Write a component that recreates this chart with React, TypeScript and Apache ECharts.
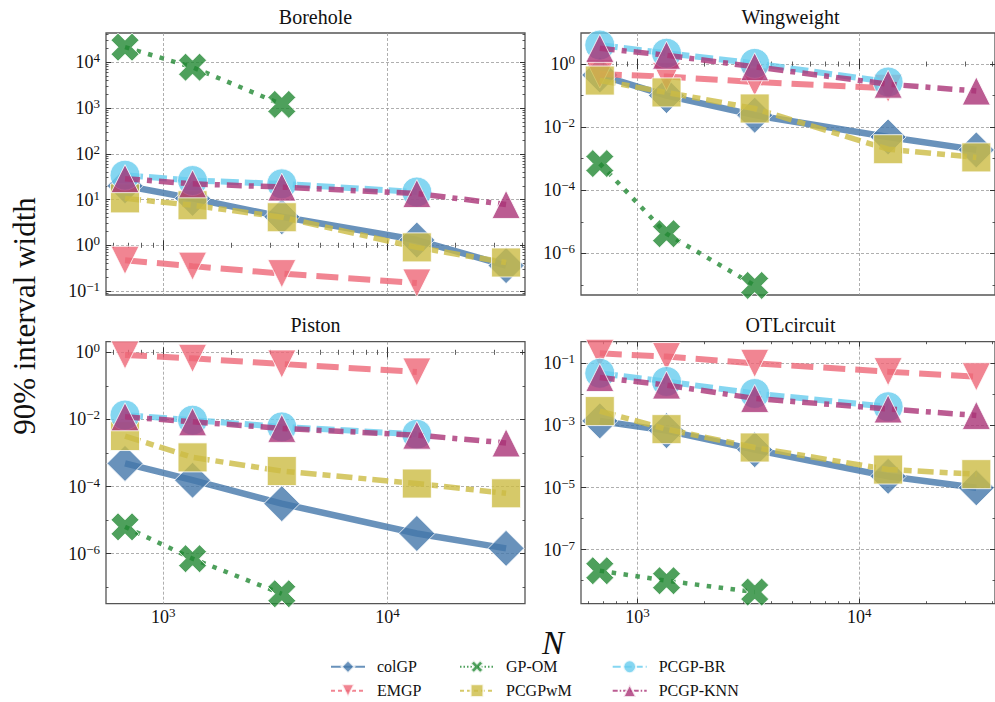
import React, { useEffect, useRef } from 'react';
import * as echarts from 'echarts';

// Training-set sizes shared by every panel
const N = [675, 1350, 3375, 13500, 33750];

// Borehole
const boreholeColGP = [20, 10.6, 4.2, 1.3, 0.36];
const boreholeEMGP = [0.47, 0.35, 0.24, 0.15];
const boreholeGPOM = [21400, 7800, 1200];
const boreholePCGPwM = [10.6, 7.5, 4.1, 0.9, 0.42];
const boreholePCGPBR = [34, 26, 22, 14.6];
const boreholePCGPKNN = [28.6, 22, 18.7, 13.5, 7.8];

// Wingweight
const wingColGP = [0.45, 0.1, 0.024, 0.0049, 0.0019];
const wingEMGP = [0.48, 0.4, 0.27, 0.17];
const wingGPOM = [7.0e-4, 4.2e-6, 9.6e-8];
const wingPCGPwM = [0.3, 0.126, 0.039, 0.002, 0.0011];
const wingPCGPBR = [4.0, 2.2, 1.05, 0.27];
const wingPCGPKNN = [3.15, 1.9, 0.82, 0.23, 0.14];

// Piston
const pistonColGP = [4.9e-4, 1.55e-4, 3.1e-5, 4.0e-6, 1.44e-6];
const pistonEMGP = [0.83, 0.66, 0.45, 0.26];
const pistonGPOM = [6.3e-6, 7.1e-7, 6.4e-8];
const pistonPCGPwM = [3.2e-3, 7.4e-4, 2.9e-4, 1.23e-4, 6.3e-5];
const pistonPCGPBR = [0.0135, 0.0095, 0.006, 0.0036];
const pistonPCGPKNN = [0.012, 0.0085, 0.0054, 0.0034, 0.002];

// OTLcircuit
const otlColGP = [1.4e-3, 6.8e-4, 1.66e-4, 2.3e-5, 9.8e-6];
const otlEMGP = [0.21, 0.165, 0.1, 0.054, 0.037];
const otlGPOM = [2.1e-8, 1.0e-8, 4.3e-9];
const otlPCGPwM = [2.9e-3, 7.6e-4, 1.95e-4, 3.8e-5, 2.7e-5];
const otlPCGPBR = [0.048, 0.026, 0.0107, 0.004];
const otlPCGPKNN = [0.035, 0.02, 0.0074, 0.0034, 0.0021];

const METHODS = ['colGP', 'EMGP', 'GP-OM', 'PCGPwM', 'PCGP-BR', 'PCGP-KNN'];
const TITLES = ['Borehole', 'Wingweight', 'Piston', 'OTLcircuit'];

// Labelled decades (exponents) and minor tick decades per panel
const X_MAJOR_EXP = [3, 4];
const Y_MAJOR_EXP = [
  [-1, 0, 1, 2, 3, 4],
  [0, -2, -4, -6],
  [0, -2, -4, -6],
  [-1, -3, -5, -7],
];
const Y_DECADE_EXP = [
  [],
  [1, -1, -3, -5, -7],
  [-1, -3, -5, -7],
  [0, -2, -4, -6, -8],
];

// Axis ranges, as powers of ten (the axes run in log10 space)
const X_RANGE = [2.7445, 4.6126];
const Y_RANGES = [
  [-1.087, 4.64],
  [-7.32, 0.984],
  [-7.49, 0.316],
  [-8.74, -0.303],
];

const FONT = 'Liberation Serif, serif';
const COLORS = ['#4477AA', '#EE6677', '#228833', '#CCBB44', '#66CCEE', '#AA3377'];
const X_MARK = 'path://M0,2.5L2.5,0L5,2.5L7.5,0L10,2.5L7.5,5L10,7.5L7.5,10L5,7.5L2.5,10L0,7.5L2.5,5Z';

const STYLES = [
  { symbol: 'diamond', size: 36, rotate: 0, width: 6.5, type: 'solid' as any, legendType: 'solid' as any },
  { symbol: 'triangle', size: 28, rotate: 180, width: 6, type: [22, 10], legendType: [4, 3] },
  { symbol: X_MARK, size: 28, rotate: 0, width: 4.5, type: [4.5, 7.5], legendType: [1.5, 2] },
  { symbol: 'rect', size: 29, rotate: 0, width: 5.5, type: [16, 6, 8, 6], legendType: [4, 3] },
  { symbol: 'circle', size: 30, rotate: 0, width: 6, type: [18, 6], legendType: [8, 3] },
  { symbol: 'triangle', size: 28, rotate: 0, width: 5.5, type: [15, 7, 5, 7], legendType: [5, 2, 1.5, 2] },
];

const PANEL_DATA = [
  [boreholeColGP, boreholeEMGP, boreholeGPOM, boreholePCGPwM, boreholePCGPBR, boreholePCGPKNN],
  [wingColGP, wingEMGP, wingGPOM, wingPCGPwM, wingPCGPBR, wingPCGPKNN],
  [pistonColGP, pistonEMGP, pistonGPOM, pistonPCGPwM, pistonPCGPBR, pistonPCGPKNN],
  [otlColGP, otlEMGP, otlGPOM, otlPCGPwM, otlPCGPBR, otlPCGPKNN],
];

const GRIDS = [
  { left: 106, top: 33 },
  { left: 581, top: 33 },
  { left: 106, top: 341.7 },
  { left: 581, top: 341.7 },
];
const GRID_W = 419;
const GRID_H = 262;

// minor ticks at 2..9 x 10^e, in log10 space
const subTicks = (lo: number, hi: number) => {
  const out: number[] = [];
  for (let e = lo; e <= hi; e++) for (let s = 2; s <= 9; s++) out.push(e + Math.log10(s));
  return out;
};

const expLabel = (v: number) => {
  const e = Math.round(v);
  return '{b|10}{s|' + (e < 0 ? '\u2212' + -e : String(e)) + '}';
};

const labelRich = {
  b: { fontSize: 18, fontFamily: FONT, color: '#111' },
  s: { fontSize: 13, fontFamily: FONT, color: '#111', padding: [0, 0, 9, 0] },
};

const majorTick = (values: number[]) => ({
  show: true,
  inside: true,
  length: 5,
  customValues: values,
  lineStyle: { color: '#333', width: 1 },
});
const minorTick = (values: number[]) => ({
  show: true,
  inside: true,
  length: 2.5,
  customValues: values,
  lineStyle: { color: '#333', width: 0.8 },
});
const gridLine = {
  show: true,
  lineStyle: { color: '#9a9a9a', width: 0.8, type: [3, 2] },
};

function buildOption() {
  const xAxis: any[] = [];
  const yAxis: any[] = [];
  const series: any[] = [];

  const xMinor = subTicks(2, 4);

  GRIDS.forEach((_, g) => {
    const xBase = {
      type: 'value',
      gridIndex: g,
      min: X_RANGE[0],
      max: X_RANGE[1],
      axisLine: { show: false },
      splitLine: { show: false },
      axisLabel: { show: false },
      silent: true,
    };
    const bottomRow = g >= 2;
    xAxis.push({
      ...xBase,
      position: 'bottom',
      axisTick: majorTick(X_MAJOR_EXP),
      splitLine: gridLine,
      axisLabel: {
        show: bottomRow,
        customValues: X_MAJOR_EXP,
        formatter: expLabel,
        margin: 2,
        rich: labelRich,
      },
    });
    xAxis.push({ ...xBase, position: 'bottom', axisTick: minorTick(xMinor) });
    xAxis.push({ ...xBase, position: 'top', axisTick: majorTick(X_MAJOR_EXP) });
    xAxis.push({ ...xBase, position: 'top', axisTick: minorTick(xMinor) });

    const yMajor = Y_MAJOR_EXP[g];
    const yMinor = g === 0 ? subTicks(-2, 4) : Y_DECADE_EXP[g];
    const yBase = {
      type: 'value',
      gridIndex: g,
      min: Y_RANGES[g][0],
      max: Y_RANGES[g][1],
      axisLine: { show: false },
      splitLine: { show: false },
      axisLabel: { show: false },
      silent: true,
    };
    yAxis.push({
      ...yBase,
      position: 'left',
      axisTick: majorTick(yMajor),
      splitLine: gridLine,
      axisLabel: {
        show: true,
        customValues: yMajor,
        formatter: expLabel,
        margin: 6,
        rich: labelRich,
      },
    });
    yAxis.push({ ...yBase, position: 'left', axisTick: minorTick(yMinor) });
    yAxis.push({ ...yBase, position: 'right', axisTick: majorTick(yMajor) });
    yAxis.push({ ...yBase, position: 'right', axisTick: minorTick(yMinor) });

    PANEL_DATA[g].forEach((vals, m) => {
      const st = STYLES[m];
      series.push({
        type: 'line',
        name: METHODS[m],
        xAxisIndex: g * 4,
        yAxisIndex: g * 4,
        data: vals.map((v, k) => [Math.log10(N[k]), Math.log10(v)]),
        symbol: st.symbol,
        symbolSize: st.size,
        symbolRotate: st.rotate,
        showSymbol: true,
        showAllSymbol: true,
        z: 2 + m,
        silent: true,
        emphasis: { disabled: true },
        itemStyle: {
          color: COLORS[m],
          opacity: 0.8,
          borderColor: '#ffffff',
          borderWidth: 1,
        },
        lineStyle: {
          color: COLORS[m],
          width: st.width,
          type: st.type,
          opacity: 0.8,
          cap: 'butt',
        },
      });
    });
  });

  const legendItem = (m: number) => ({
    name: METHODS[m],
    lineStyle: { width: 2, type: STYLES[m].legendType },
  });
  const legendBase = {
    orient: 'vertical',
    top: 658.7,
    padding: 0,
    itemWidth: 34,
    itemHeight: 16,
    itemGap: 8,
    selectedMode: false,
    textStyle: { fontFamily: FONT, fontSize: 16, color: '#111', padding: [0, 0, 0, 7] },
  };

  const textEl = (text: string, x: number, y: number, size: number, italic = false, rotation = 0) => ({
    type: 'text',
    x,
    y,
    rotation,
    silent: true,
    style: {
      text,
      fontFamily: FONT,
      fontSize: size,
      fontStyle: italic ? 'italic' : 'normal',
      fill: '#111',
      textAlign: 'center',
      textVerticalAlign: 'middle',
      align: 'center',
      verticalAlign: 'middle',
    },
  });

  return {
    animation: false,
    backgroundColor: '#ffffff',
    textStyle: { fontFamily: FONT },
    grid: GRIDS.map((p) => ({
      left: p.left,
      top: p.top,
      width: GRID_W,
      height: GRID_H,
      show: true,
      borderColor: '#555',
      borderWidth: 1.3,
      backgroundColor: 'transparent',
    })),
    xAxis,
    yAxis,
    series,
    legend: [
      { ...legendBase, left: 330, data: [legendItem(0), legendItem(1)] },
      { ...legendBase, left: 459, data: [legendItem(2), legendItem(3)] },
      { ...legendBase, left: 611.7, data: [legendItem(4), legendItem(5)] },
    ],
    graphic: [
      textEl(TITLES[0], 315.5, 17, 20),
      textEl(TITLES[1], 790.5, 17, 20),
      textEl(TITLES[2], 315.5, 325, 20),
      textEl(TITLES[3], 790.5, 325, 20),
      textEl('90% interval width', 24, 316, 31, false, Math.PI / 2),
      textEl('N', 553, 643, 33, true),
    ],
  };
}

export default function App() {
  const ref = useRef<HTMLDivElement>(null);
  useEffect(() => {
    if (!ref.current) return;
    const chart = echarts.init(ref.current, null, { renderer: 'svg' });
    chart.setOption(buildOption() as any);
    return () => chart.dispose();
  }, []);
  return (
    <div
      style={{
        position: 'fixed',
        left: 0,
        top: 0,
        width: 995,
        height: 702,
        overflow: 'hidden',
        background: '#fff',
      }}
    >
      <div ref={ref} style={{ width: 995, height: 702 }} />
    </div>
  );
}
